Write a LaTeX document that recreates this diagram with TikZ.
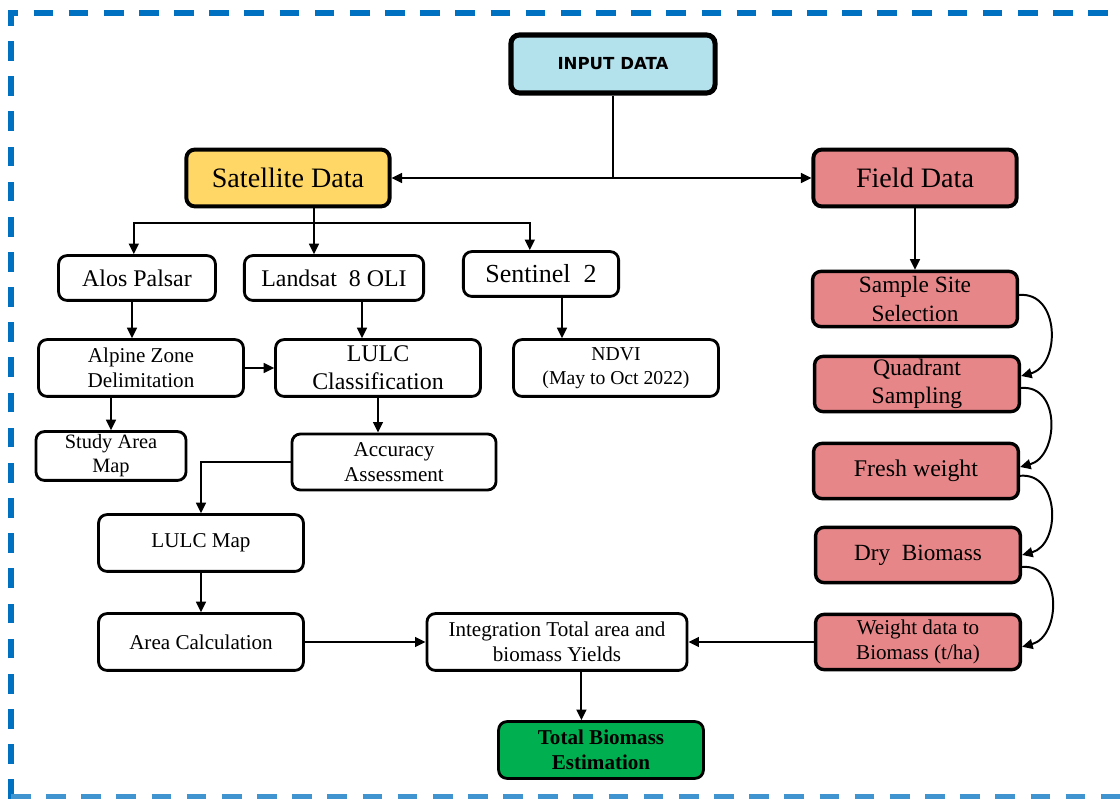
\documentclass[tikz,border=0pt]{standalone}
\usepackage{fontspec}
\setmainfont{Liberation Serif}
\newfontfamily\headfont{DejaVu Sans}
\usepackage{xcolor}
\usepackage{tikz}
\usetikzlibrary{arrows.meta}
\definecolor{inputblue}{RGB}{180,226,236}
\definecolor{satyellow}{RGB}{255,215,102}
\definecolor{fieldpink}{RGB}{230,134,137}
\definecolor{totalgreen}{RGB}{0,176,80}
\definecolor{frameblue}{RGB}{0,112,192}

\begin{document}
\begin{tikzpicture}[x=0.025cm,y=-0.025cm, every node/.style={font=\fontsize{15}{17.5}\selectfont}]
  \tikzstyle{stepbox}=[draw=black, line width=2pt, rounded corners=6pt, fill=white, align=center, inner sep=1pt, minimum width=5.12cm, minimum height=1.42cm]
  \tikzstyle{headbox}=[stepbox, line width=2.8pt, minimum width=5.08cm, font=\fontsize{20}{23}\selectfont]
  \tikzstyle{fieldbox}=[stepbox, line width=2.4pt, fill=fieldpink, minimum height=1.38cm]
  \tikzstyle{link}=[line width=1.4pt]
  \tikzstyle{arr}=[link, -{Triangle[length=7.5pt,width=7pt]}]
  \useasboundingbox (0,0) rectangle (1120,799);
  \clip (0,0) rectangle (1120,799);
  \draw[frameblue, line width=3.6pt, dash pattern=on 14pt off 11pt] (11,799) -- (11,13) -- (1140,13);
  \draw[frameblue!75, line width=3.6pt, dash pattern=on 14pt off 11pt] (11,797) -- (1140,797);

  % top level
  \node[stepbox, line width=3.6pt, fill=inputblue, minimum width=5.1cm, minimum height=1.45cm, font=\headfont\bfseries\fontsize{11.8}{13}\selectfont] (inp) at (613,64) {INPUT DATA};
  \node[headbox, fill=satyellow] (sat) at (288,178) {Satellite Data};
  \node[headbox, fill=fieldpink] (fld) at (915,178) {Field Data};

  % satellite branch
  \node[stepbox, minimum width=3.92cm, minimum height=1.12cm, font=\fontsize{17}{19}\selectfont] (alos) at (137,278) {Alos Palsar};
  \node[stepbox, minimum width=4.48cm, minimum height=1.12cm, font=\fontsize{17}{19}\selectfont] (land) at (334,278) {Landsat\ \ 8 OLI};
  \node[stepbox, minimum width=3.88cm, minimum height=1.12cm, font=\fontsize{18.5}{20}\selectfont] (sent) at (541,274) {Sentinel\ \ 2};
  \node[stepbox] (alp) at (141,368) {Alpine Zone\\Delimitation};
  \node[stepbox, font=\fontsize{17}{20}\selectfont] (lcls) at (378,368) {LULC\\Classification};
  \node[stepbox, font=\fontsize{14}{17.5}\selectfont] (ndvi) at (616,368) {NDVI\\(May to Oct 2022)};
  \node[stepbox, minimum width=3.75cm, minimum height=1.22cm, font=\fontsize{14.5}{17}\selectfont] (study) at (111,456) {Study Area\\Map};
  \node[stepbox, minimum width=5.1cm, minimum height=1.4cm] (acc) at (394,462) {Accuracy\\Assessment};
  \node[stepbox] (lmap) at (201,543) {LULC Map};
  \node[stepbox] (area) at (201,642) {Area Calculation};
  \node[stepbox, minimum width=6.5cm] (integ) at (557,642) {Integration Total area and\\biomass Yields};
  \node[stepbox, fill=totalgreen, font=\bfseries\fontsize{15}{17.5}\selectfont] (total) at (601,750) {Total Biomass\\Estimation};

  % field branch
  \node[fieldbox, font=\fontsize{16.6}{20}\selectfont] (ss) at (915,299) {Sample Site\\Selection};
  \node[fieldbox, font=\fontsize{16.8}{20}\selectfont] (qs) at (917,384) {Quadrant\\Sampling};
  \node[fieldbox, font=\fontsize{17}{20}\selectfont] (fw) at (916,471) {Fresh weight};
  \node[fieldbox, font=\fontsize{16.5}{20}\selectfont] (db) at (918,555) {Dry\ \ Biomass};
  \node[fieldbox] (wd) at (918,642) {Weight data to\\Biomass (t/ha)};

  % connectors
  \coordinate (split) at (inp.south |- sat.east);
  \coordinate (bus) at (314,223);
  \draw[link] (inp) -- (split);
  \draw[arr] (split) -- (sat);
  \draw[arr] (split) -- (fld);
  \draw[link] (bus |- sat.south) -- (bus);
  \draw[arr] (bus) -| ([xshift=-0.08cm]alos.north);
  \draw[arr] (bus) -- (bus |- land.north);
  \draw[arr] (bus) -| ([xshift=-0.28cm]sent.north);
  \draw[arr] ([xshift=-0.125cm]alos.south) -- ([xshift=-0.125cm]alos.south |- alp.north);
  \draw[arr] ([xshift=0.7cm]land.south) -- ([xshift=0.7cm]land.south |- lcls.north);
  \draw[arr] ([xshift=0.525cm]sent.south) -- ([xshift=0.525cm]sent.south |- ndvi.north);
  \draw[arr] (alp) -- (lcls);
  \draw[arr] (study.north |- alp.south) -- (study.north);
  \draw[arr] (lcls.south) -- (lcls.south |- acc.north);
  \draw[arr] (acc.west) -| (lmap.north);
  \draw[arr] (lmap) -- (area);
  \draw[arr] (area) -- (integ);
  \draw[arr] (wd) -- (integ);
  \draw[arr] ([xshift=0.61cm]integ.south) -- ([xshift=0.61cm]integ.south |- total.north);
  \draw[arr] (fld) -- (ss);
  \draw[arr] ([yshift=0.1cm]ss.east) to[out=5, in=15, looseness=1.3] ([yshift=0.2cm]qs.east);
  \draw[arr] ([yshift=-0.1cm]qs.east) to[out=5, in=15, looseness=1.3] ([yshift=0.1cm]fw.east);
  \draw[arr] ([yshift=-0.12cm]fw.east) to[out=5, in=15, looseness=1.3] (db.east);
  \draw[arr] ([yshift=-0.3cm]db.east) to[out=5, in=15, looseness=1.3] ([yshift=-0.12cm]wd.east);
\end{tikzpicture}
\end{document}
